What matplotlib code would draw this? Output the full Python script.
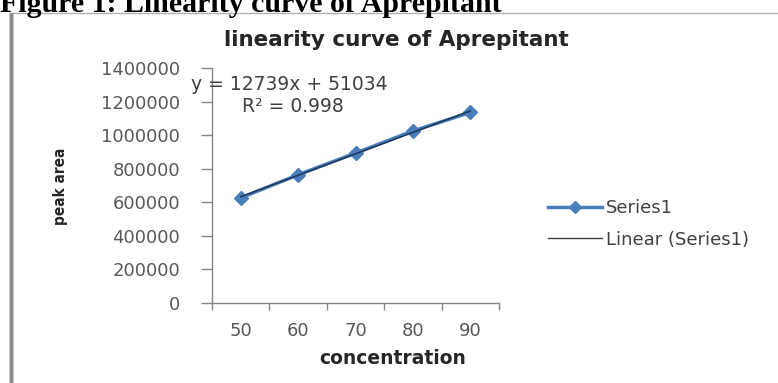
import numpy as np
import matplotlib
matplotlib.use("Agg")
import matplotlib.pyplot as plt
from matplotlib.patches import Rectangle

# calibration data
concentration = [50, 60, 70, 80, 90]
peak_area = [626000, 764000, 893000, 1025000, 1135000]
y_ticks = [0, 200000, 400000, 600000, 800000, 1000000, 1200000, 1400000]
equation_text = "y = 12739x + 51034"
r2_text = "R² = 0.998"

W, H = 778, 383
fig = plt.figure(figsize=(W / 100, H / 100), dpi=100)
fig.patch.set_facecolor("white")

txt = "#595959"
dark = "#262626"
blue = "#4a7ebb"

# caption above the chart frame
fig.text(0, 1 - 12 / H, "Figure 1: Linearity curve of Aprepitant", family="Liberation Serif",
         weight="bold", fontsize=21.5, va="baseline", ha="left", color="black")

# chart frame
fig.patches.append(Rectangle((11 / W, -0.1), 1.2, 1 - 13 / H + 0.1, transform=fig.transFigure,
                             fill=False, edgecolor="#b0b0b0", linewidth=1.0))
fig.patches.append(Rectangle((11 / W, -0.1), 0, 1 - 13 / H + 0.1, transform=fig.transFigure,
                             fill=False, edgecolor="#8c8c8c", linewidth=2.5))

ax = fig.add_axes([212 / W, 1 - 303 / H, (499 - 212) / W, (303 - 68) / H])
pos = np.arange(len(concentration))

ax.plot(pos, peak_area, color=blue, marker="D", markersize=7, linewidth=2.5, label="Series1")
k, b = np.polyfit(pos, peak_area, 1)
xt = np.array([pos[0], pos[-1]])
ax.plot(xt, k * xt + b, color="#1f3a60", linewidth=1.2, label="Linear (Series1)")

ax.set_xlim(-0.5, len(concentration) - 0.5)
ax.set_ylim(0, 1400000)
ax.set_yticks(y_ticks)
ax.set_yticklabels([str(v) for v in y_ticks])
ax.set_xticks(pos)
ax.set_xticklabels([str(c) for c in concentration])
ax.set_xticks(np.arange(-0.5, len(concentration)), minor=True)

for s in ["top", "right"]:
    ax.spines[s].set_visible(False)
for s in ["left", "bottom"]:
    ax.spines[s].set_color("#868686")
    ax.spines[s].set_linewidth(1.0)

ax.tick_params(axis="y", direction="out", length=8, width=1, color="#868686",
               labelsize=13, labelcolor=txt, pad=15)
ax.tick_params(axis="x", which="major", length=0, labelsize=13, labelcolor=txt, pad=14)
ax.tick_params(axis="x", which="minor", direction="out", length=5, width=1, color="#868686")
for lab in ax.get_xticklabels() + ax.get_yticklabels():
    lab.set_family("DejaVu Sans")

fig.text(396 / W, 1 - 40 / H, "linearity curve of Aprepitant", fontsize=15.5, weight="bold",
         color=dark, family="DejaVu Sans", ha="center", va="center")
fig.text(393 / W, 1 - 359 / H, "concentration", fontsize=13.5, weight="bold",
         color=dark, family="DejaVu Sans", ha="center", va="center")
fig.text(61 / W, 1 - 186 / H, "peak area", rotation=90, fontsize=11, weight="bold",
         fontstretch="condensed", color=dark, family="DejaVu Sans",
         ha="center", va="center")

fig.text(191 / W, 1 - 85 / H, equation_text, fontsize=13.5,
         color="#404040", family="DejaVu Sans", ha="left", va="center")
fig.text(242 / W, 1 - 107 / H, r2_text, fontsize=13.5,
         color="#404040", family="DejaVu Sans", ha="left", va="center")

leg = fig.legend(loc="center left", bbox_to_anchor=(532 / W, 1 - 224 / H), frameon=False,
                 handlelength=3.0, handletextpad=0.2, labelspacing=0.75,
                 prop={"family": "DejaVu Sans", "size": 13})
for t in leg.get_texts():
    t.set_color("#404040")
leg.get_lines()[0].set_markersize(6)
leg.get_lines()[1].set_color("#404040")
leg.get_lines()[1].set_linewidth(1.0)

fig.savefig("out.png", dpi=100)
